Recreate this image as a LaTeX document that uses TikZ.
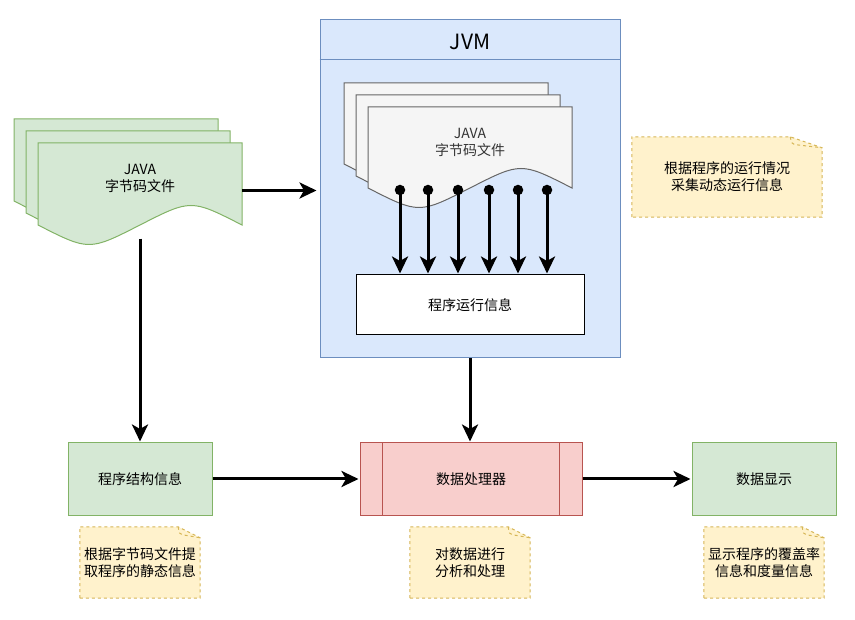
\documentclass[tikz,border=0pt]{standalone}
\usepackage{fontspec}
\setmainfont{Noto Sans CJK SC}
\usetikzlibrary{arrows.meta,backgrounds,calc}
\definecolor{blueF}{HTML}{DAE8FC}\definecolor{blueS}{HTML}{6C8EBF}
\definecolor{greenF}{HTML}{D5E8D4}\definecolor{greenS}{HTML}{82B366}
\definecolor{redF}{HTML}{F8CECC}\definecolor{redS}{HTML}{B85450}
\definecolor{yelF}{HTML}{FFF2CC}\definecolor{yelS}{HTML}{D6B656}
\definecolor{grayF}{HTML}{F5F5F5}\definecolor{grayS}{HTML}{666666}
\definecolor{txtgray}{HTML}{333333}
\tikzset{
  arr/.style={line width=3pt,-{Stealth[length=17pt,width=16pt,inset=4.5pt]},shorten >=1pt},
  greendoc/.style={fill=greenF,draw=greenS,line width=1pt},
  graydoc/.style={fill=grayF,draw=grayS,line width=1pt},
  greenbox/.style={rectangle,fill=greenF,draw=greenS,line width=1pt,inner sep=0pt},
  procbox/.style={rectangle,fill=redF,draw=redS,line width=1pt,inner sep=0pt},
  whitebox/.style={rectangle,fill=white,draw=black,line width=1pt,inner sep=0pt},
  jvmbox/.style={rectangle,fill=blueF,draw=blueS,line width=1pt,inner sep=0pt},
  dotnode/.style={circle,fill=black,inner sep=0pt,minimum size=10.5pt},
  notefill/.style={fill=yelF},
  noteline/.style={draw=yelS,dashed,line width=1pt},
  txt/.style={align=center,inner sep=0pt}
}
\newcommand\mydoc[5]{%
  \path[#5] (#1,#2) -- ({#1+#3},#2) -- ({#1+#3},{#2+#4})
    .. controls ({#1+0.75*#3},{#2+#4-26}) .. ({#1+0.5*#3},{#2+#4})
    .. controls ({#1+0.25*#3},{#2+#4+26}) .. (#1,{#2+#4}) -- cycle;}
\newcommand\mynote[7]{%
  \node[txt,minimum width=#4pt,minimum height=#5pt] (#1) at (#2,#3) {#7};
  \begin{scope}[on background layer]
  \path[notefill,noteline] (#1.south west) -- (#1.north west) -- ($(#1.north east)+(-#6,0)$)
     -- ($(#1.north east)+(0,11)$)
     -- (#1.south east) -- cycle;
  \draw[noteline] ($(#1.north east)+(-#6,0)$)
     .. controls ($(#1.north east)+({-0.95*#6},7)$) .. ($(#1.north east)+({-0.8*#6},8)$)
     -- ($(#1.north east)+(0,11)$);
  \end{scope}}
\begin{document}
\begin{tikzpicture}[x=1pt,y=-1pt,font=\fontsize{14}{17}\selectfont]
\useasboundingbox (0,0) rectangle (855,620);
% JVM container
\node[jvmbox,minimum width=300pt,minimum height=338pt] (jvm) at (470,189) {};
\draw[blueS,line width=1pt] ([yshift=-40pt]jvm.north west) -- ([yshift=-40pt]jvm.north east);
\node[txt,font=\fontsize{21}{24}\selectfont] (jvmtitle) at (470,42) {JVM};
% left documents
\mydoc{14}{119}{204}{82}{greendoc}
\mydoc{26}{131}{204}{82}{greendoc}
\mydoc{38}{143}{204}{82}{greendoc}
\node[inner sep=0pt,minimum width=204pt,minimum height=96pt] (leftdoc) at (140,190.5) {};
\node[txt] (leftdoctxt) at (140,178) {JAVA\\字节码文件};
% JVM documents
\mydoc{344}{83}{204}{81}{graydoc}
\mydoc{356}{95}{204}{81}{graydoc}
\mydoc{368}{107}{204}{81}{graydoc}
\node[txt,text=txtgray] (jvmdoctxt) at (470,142) {JAVA\\字节码文件};
% run info box
\node[whitebox,minimum width=228pt,minimum height=60pt] (run) at (470,305) {程序运行信息};
% dots and arrows
\foreach \i/\x in {1/400,2/428,3/458,4/489,5/518,6/547}{
  \node[dotnode] (d\i) at (\x,190) {};
  \draw[arr] (d\i.center) -- (d\i |- run.north);
}
% bottom boxes
\node[greenbox,minimum width=144pt,minimum height=72pt] (struct) at (140,479) {程序结构信息};
\node[procbox,minimum width=222pt,minimum height=72pt] (proc) at (471,479) {数据处理器};
\draw[redS,line width=1pt] ([xshift=23pt]proc.north west) -- ([xshift=23pt]proc.south west);
\draw[redS,line width=1pt] ([xshift=-23pt]proc.north east) -- ([xshift=-23pt]proc.south east);
\node[greenbox,minimum width=144pt,minimum height=72pt] (disp) at (764,479) {数据显示};
% arrows
\draw[arr,shorten >=3pt] (leftdoc.east) -- (leftdoc.east -| jvm.west);
\draw[arr] (leftdoc.south) -- (leftdoc.south |- struct.north);
\draw[arr] (jvm.south) -- (jvm.south |- proc.north);
\draw[arr] (struct.east) -- (proc.west);
\draw[arr] (proc.east) -- (disp.west);
% notes
\mynote{n0}{727}{177}{190}{80}{32}{根据程序的运行情况\\采集动态运行信息}
\mynote{n1}{140}{562.5}{120}{71}{22}{根据字节码文件提\\取程序的静态信息}
\mynote{n2}{470}{562.5}{120}{71}{22}{对数据进行\\分析和处理}
\mynote{n3}{764}{562.5}{120}{71}{22}{显示程序的覆盖率\\信息和度量信息}
\end{tikzpicture}
\end{document}
